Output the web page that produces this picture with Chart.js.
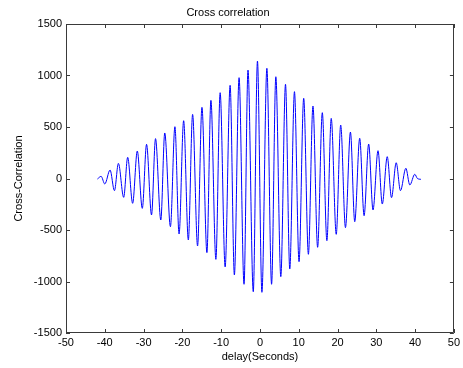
<!DOCTYPE html>
<html>
<head>
<meta charset="utf-8">
<script src="https://cdn.jsdelivr.net/npm/chart.js@4/dist/chart.umd.min.js"></script>
<style>
  html, body { margin: 0; padding: 0; background: #fff; }
  #wrap { width: 463px; height: 368px; }
</style>
</head>
<body>
<div id="wrap"><canvas id="c" width="463" height="368"></canvas></div>
<script>
// Extrema of the cross-correlation (delay in seconds)
const delays = [-41.9,-40.95,-40.0,-38.64,-37.51,-36.49,-35.13,-34.10,-32.82,-31.62,
  -30.33,-29.23,-27.95,-26.92,-25.56,-24.54,-23.08,-21.92,-20.85,-19.67,
  -18.46,-17.36,-16.08,-14.95,-13.67,-12.64,-11.36,-10.26,-8.97,-7.69,
  -6.59,-5.38,-4.10,-3.08,-1.72,-0.64,0.51,1.79,3.0,4.10,
  5.38,6.59,7.69,8.90,10.08,11.28,12.49,13.67,14.87,16.08,
  17.26,18.38,19.67,20.82,22.05,23.33,24.44,25.72,26.85,28.03,
  29.15,30.44,31.54,32.82,33.92,35.13,36.23,37.62,38.64,39.92,
  40.6,41.5];
const xcorrValues = [-5,21,-53,82,-118,147,-183,206,-241,267,
  -290,332,-354,387,-403,442,-468,503,-539,561,
  -597,623,-655,691,-720,759,-785,833,-859,905,
  -937,979,-1027,1053,-1099,1140,-1105,1070,-1027,988,
  -953,915,-879,843,-808,779,-736,704,-668,639,
  -604,584,-542,519,-477,451,-419,390,-361,335,
  -306,270,-248,212,-186,153,-118,99,-63,41,
  0,-8];
const xTicks = [-50,-40,-30,-20,-10,0,10,20,30,40,50];
const yTicks = [-1500,-1000,-500,0,500,1000,1500];

const chartTitle = 'Cross correlation';
const xTitle = 'delay(Seconds)';
const yTitle = 'Cross-Correlation';

const points = delays.map((d, i) => ({ x: d, y: xcorrValues[i] }));

const FONT = { family: '"Liberation Sans", Arial, sans-serif', size: 11 };
const AXIS_COLOR = '#3a3a3a';

const framePlugin = {
  id: 'matlabFrame',
  afterDraw(chart) {
    const { ctx, chartArea: a, scales } = chart;
    const L = 4;
    ctx.save();
    ctx.strokeStyle = AXIS_COLOR;
    ctx.lineWidth = 1;
    ctx.beginPath();
    ctx.rect(Math.round(a.left) + 0.5, Math.round(a.top) + 0.5,
             Math.round(a.right - a.left) - 1, Math.round(a.bottom - a.top) - 1);
    ctx.stroke();
    ctx.beginPath();
    scales.x.ticks.forEach(t => {
      const px = Math.round(scales.x.getPixelForValue(t.value)) + 0.5;
      ctx.moveTo(px, a.bottom); ctx.lineTo(px, a.bottom - L);
      ctx.moveTo(px, a.top); ctx.lineTo(px, a.top + L);
    });
    scales.y.ticks.forEach(t => {
      const py = Math.round(scales.y.getPixelForValue(t.value)) + 0.5;
      ctx.moveTo(a.left, py); ctx.lineTo(a.left + L, py);
      ctx.moveTo(a.right, py); ctx.lineTo(a.right - L, py);
    });
    ctx.stroke();
    ctx.restore();
  }
};

new Chart(document.getElementById('c'), {
  type: 'line',
  data: {
    datasets: [{
      data: points,
      borderColor: '#0000ff',
      borderWidth: 1,
      pointRadius: 0,
      fill: false,
      cubicInterpolationMode: 'monotone'
    }]
  },
  options: {
    responsive: false,
    animation: false,
    events: [],
    layout: { padding: { top: 0, right: 7, bottom: 0, left: 0 } },
    plugins: {
      legend: { display: false },
      tooltip: { enabled: false },
      title: {
        display: true,
        text: chartTitle,
        color: '#000',
        font: { ...FONT, size: 11, weight: 'normal', lineHeight: 1 },
        padding: { top: 7, bottom: 6 }
      }
    },
    scales: {
      x: {
        type: 'linear',
        min: -50, max: 50,
        afterBuildTicks(s) { s.ticks = xTicks.map(v => ({ value: v })); },
        afterFit(s) { s.height = 35; },
        grid: { display: false, drawTicks: false },
        border: { display: false },
        ticks: { color: '#000', font: FONT, padding: 3, maxRotation: 0, autoSkip: false,
                 callback: v => String(v) },
        title: {
          display: true, text: xTitle, color: '#000',
          font: { ...FONT, lineHeight: 1.2 }, padding: { top: 0, bottom: 4 }
        }
      },
      y: {
        type: 'linear',
        min: -1500, max: 1500,
        afterBuildTicks(s) { s.ticks = yTicks.map(v => ({ value: v })); },
        afterFit(s) { s.width = 66; },
        grid: { display: false, drawTicks: false },
        border: { display: false },
        ticks: { color: '#000', font: FONT, padding: 4, autoSkip: false,
                 callback: v => String(v) },
        title: {
          display: true, text: yTitle, color: '#000',
          font: { ...FONT, lineHeight: 1.2 }, padding: { top: 12, bottom: 0 }
        }
      }
    }
  },
  plugins: [framePlugin]
});
</script>
</body>
</html>
